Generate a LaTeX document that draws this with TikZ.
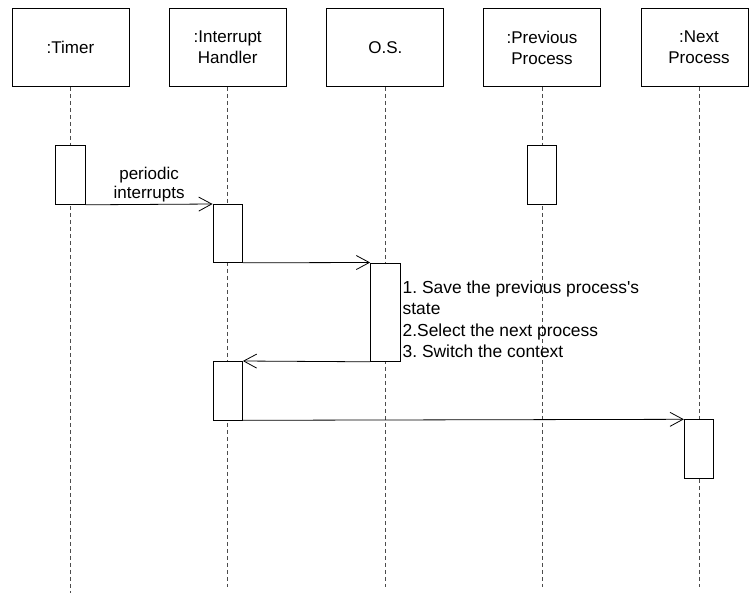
\documentclass[tikz,border=0pt]{standalone}
\usepackage{fontspec}
\setmainfont{Liberation Sans}
\usetikzlibrary{arrows.meta}
\frenchspacing
\begin{document}
\begin{tikzpicture}[x=1pt,y=-1pt,
  headbox/.style={draw=black, line width=0.8pt, minimum width=117pt, minimum height=78pt, inner sep=0pt, align=center, font=\fontsize{17}{21}\selectfont},
  actbox/.style={draw=black, fill=white, line width=0.8pt, minimum width=29.5pt, inner sep=0pt, anchor=north},
  lifeline/.style={draw=black!70, line width=0.8pt, dash pattern=on 4.5pt off 2.5pt},
  msg/.style={draw=black, line width=0.8pt, -{Straight Barb[length=13pt,width=14pt,line width=0.8pt]}},
  lbl/.style={font=\fontsize{17}{19}\selectfont, inner sep=0pt, align=center},
  notetext/.style={font=\fontsize{17.4}{21.5}\selectfont\frenchspacing, inner sep=0pt}
]
\useasboundingbox (0,0) rectangle (749,595);

% heads
\node[headbox] (timer) at (70.5,47.5) {:Timer};
\node[headbox] (ih) at (227.7,47.5) {:Interrupt\\Handler};
\node[headbox] (os) at (385.3,47.5) {O.S.};
\node[headbox] (pp) at (542,47.5) {:Previous\\Process};
\node[headbox, minimum width=107pt] (np) at (694.5,47.5) {\hspace*{9pt}:Next\\\hspace*{9pt}Process};

% lifeline ends
\coordinate (timerEnd) at (70.5,593);
\coordinate (ihEnd) at (227.7,587);
\coordinate (osEnd) at (385.3,587);
\coordinate (ppEnd) at (542,587);
\coordinate (npEnd) at (699,587);

\draw[lifeline] (timer.south) -- (timerEnd);
\draw[lifeline] (ih.south) -- (ihEnd);
\draw[lifeline] (os.south) -- (osEnd);
\draw[lifeline] (pp.south) -- (ppEnd);
\draw[lifeline] (npEnd |- np.south) -- (npEnd);

% activations
\node[actbox, minimum height=59pt] (t1) at (70.5,145) {};
\node[actbox, minimum height=59pt] (p1) at (542,145) {};
\node[actbox, minimum height=58pt] (h1) at (227.7,204) {};
\node[actbox, minimum height=98.5pt] (o1) at (385.3,262.5) {};
\node[actbox, minimum height=58.5pt] (h2) at (227.7,361) {};
\node[actbox, minimum height=59pt] (n1) at (699,419.3) {};

% messages
\draw[msg] (t1.south east) -- node[lbl, anchor=south, yshift=1.5pt] (m1lbl) {periodic\\interrupts} (h1.north west);
\draw[msg] (h1.south east) -- (o1.north west);
\draw[msg] (o1.south west) -- (h2.north east);
\draw[msg] (h2.south east) -- (n1.north west);

% note
\node[notetext, anchor=base west] (note) at (402.5,293) {\begin{tabular}[t]{@{}l@{}}1. Save the previous process\textquotesingle s\\state\\2.Select the next process\\3. Switch the context\end{tabular}};
\end{tikzpicture}
\end{document}
